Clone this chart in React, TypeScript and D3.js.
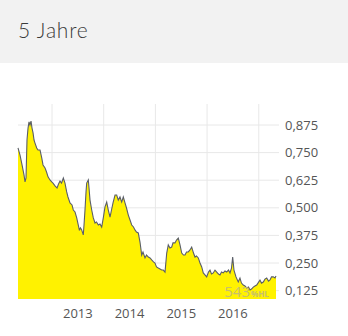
import React from "react";
import * as d3 from "d3";

// [decimal year, price]
const series: [number, number][] = [
  [2012.342, 0.771], [2012.381, 0.739], [2012.420, 0.694], [2012.458, 0.649], [2012.478, 0.617],
  [2012.497, 0.635], [2012.516, 0.807], [2012.536, 0.861], [2012.555, 0.889], [2012.574, 0.875],
  [2012.594, 0.893], [2012.613, 0.861], [2012.633, 0.839], [2012.652, 0.807], [2012.671, 0.793],
  [2012.704, 0.771], [2012.729, 0.762], [2012.768, 0.762], [2012.801, 0.726], [2012.826, 0.694],
  [2012.865, 0.680], [2012.894, 0.662], [2012.923, 0.640], [2012.961, 0.626], [2012.994, 0.617],
  [2013.019, 0.612], [2013.058, 0.599], [2013.097, 0.590], [2013.126, 0.608], [2013.155, 0.621],
  [2013.184, 0.612], [2013.219, 0.635], [2013.251, 0.612], [2013.284, 0.572], [2013.309, 0.549],
  [2013.348, 0.522], [2013.387, 0.513], [2013.412, 0.490], [2013.445, 0.481], [2013.478, 0.454],
  [2013.503, 0.427], [2013.528, 0.400], [2013.551, 0.409], [2013.574, 0.400], [2013.605, 0.377],
  [2013.619, 0.422], [2013.638, 0.490], [2013.658, 0.572], [2013.671, 0.612], [2013.702, 0.626],
  [2013.716, 0.590], [2013.735, 0.535], [2013.768, 0.490], [2013.799, 0.454], [2013.832, 0.431],
  [2013.861, 0.436], [2013.896, 0.422], [2013.928, 0.427], [2013.961, 0.413], [2013.992, 0.454],
  [2014.025, 0.504], [2014.058, 0.526], [2014.089, 0.490], [2014.122, 0.458], [2014.151, 0.490],
  [2014.180, 0.522], [2014.219, 0.558], [2014.251, 0.558], [2014.282, 0.535], [2014.315, 0.549],
  [2014.348, 0.526], [2014.379, 0.549], [2014.412, 0.522], [2014.441, 0.499], [2014.476, 0.467],
  [2014.509, 0.445], [2014.542, 0.422], [2014.576, 0.413], [2014.605, 0.400], [2014.634, 0.390],
  [2014.669, 0.386], [2014.702, 0.345], [2014.735, 0.286], [2014.760, 0.300], [2014.799, 0.273],
  [2014.828, 0.286], [2014.863, 0.277], [2014.896, 0.273], [2014.928, 0.264], [2014.963, 0.255],
  [2014.992, 0.250], [2015.021, 0.232], [2015.056, 0.227], [2015.089, 0.223], [2015.122, 0.218],
  [2015.153, 0.218], [2015.186, 0.209], [2015.219, 0.295], [2015.249, 0.332], [2015.282, 0.318],
  [2015.315, 0.322], [2015.340, 0.341], [2015.379, 0.341], [2015.408, 0.354], [2015.443, 0.363],
  [2015.476, 0.332], [2015.509, 0.295], [2015.543, 0.286], [2015.573, 0.286], [2015.602, 0.300],
  [2015.636, 0.300], [2015.669, 0.309], [2015.702, 0.322], [2015.737, 0.295], [2015.766, 0.277],
  [2015.795, 0.282], [2015.830, 0.273], [2015.863, 0.250], [2015.896, 0.232], [2015.926, 0.205],
  [2015.959, 0.196], [2015.992, 0.187], [2016.027, 0.209], [2016.056, 0.218], [2016.085, 0.200],
  [2016.120, 0.205], [2016.153, 0.218], [2016.186, 0.209], [2016.220, 0.200], [2016.249, 0.196],
  [2016.279, 0.209], [2016.313, 0.205], [2016.346, 0.214], [2016.379, 0.209], [2016.414, 0.218],
  [2016.443, 0.205], [2016.472, 0.227], [2016.495, 0.277], [2016.520, 0.218], [2016.559, 0.187],
  [2016.603, 0.164], [2016.636, 0.182], [2016.665, 0.159], [2016.700, 0.150], [2016.733, 0.146],
  [2016.766, 0.137], [2016.801, 0.141], [2016.830, 0.128], [2016.859, 0.132], [2016.894, 0.141],
  [2016.926, 0.146], [2016.959, 0.150], [2016.984, 0.159], [2017.023, 0.173], [2017.052, 0.159],
  [2017.087, 0.164], [2017.120, 0.177], [2017.153, 0.182], [2017.188, 0.168], [2017.217, 0.173],
  [2017.246, 0.187], [2017.280, 0.187], [2017.313, 0.182], [2017.333, 0.191],
];

const yearTicks = [2013, 2014, 2015, 2016];
const yearGrid = [2013, 2014, 2015, 2016, 2017];
const priceTicks = [0.125, 0.25, 0.375, 0.5, 0.625, 0.75, 0.875];
const title = "5 Jahre";

const W = 348;
const H = 336;

export default function App() {
  const x = d3.scaleLinear().domain([2012.342, 2017.333]).range([18, 276]);
  const y = d3.scaleLinear().domain([0.125, 0.875]).range([290.6, 125]);
  const plotTop = 104;
  const plotBottom = 299;
  const fmt = (v: number) => v.toFixed(3).replace(".", ",");

  const area = d3
    .area<[number, number]>()
    .x((d) => x(d[0]))
    .y0(plotBottom)
    .y1((d) => y(d[1]));
  const line = d3
    .line<[number, number]>()
    .x((d) => x(d[0]))
    .y((d) => y(d[1]));

  const font = "'Open Sans', sans-serif";

  return (
    <svg
      width={W}
      height={H}
      style={{ position: "absolute", left: 0, top: 0, background: "#fff" }}
    >
      <rect x={0} y={0} width={W} height={63} fill="#f2f2f2" />
      <text
        x={18}
        y={38}
        fontFamily="Lato, sans-serif"
        fontSize={21}
        fontWeight={300}
        letterSpacing={0.8}
        fill="#3a3a3a"
      >
        {title}
      </text>

      {priceTicks.map((t) => (
        <line key={"h" + t} x1={18} x2={279} y1={y(t)} y2={y(t)} stroke="#e8e8e8" strokeWidth={1} />
      ))}
      {yearGrid.map((t) => (
        <line key={"v" + t} x1={x(t)} x2={x(t)} y1={plotTop} y2={plotBottom} stroke="#e8e8e8" strokeWidth={1} />
      ))}

      <path d={area(series) || ""} fill="#fff200" />
      <path d={line(series) || ""} fill="none" stroke="#5a5e68" strokeWidth={1.1} />

      <text x={250} y={297} textAnchor="end" fontFamily={font} fontSize={15} fill="#c8c06c">
        543
      </text>
      <text x={251} y={297} fontFamily={font} fontSize={8} fontWeight={700} fill="#c8c06c">
        %HL
      </text>

      {priceTicks.map((t) => (
        <text
          key={"yl" + t}
          x={285}
          y={y(t)}
          dy="0.35em"
          fontFamily={font}
          fontSize={13}
          fill="#555"
        >
          {fmt(t)}
        </text>
      ))}
      {yearTicks.map((t) => (
        <text
          key={"xl" + t}
          x={x(t + 0.5)}
          y={318}
          textAnchor="middle"
          fontFamily={font}
          fontSize={13}
          fill="#555"
        >
          {t}
        </text>
      ))}
    </svg>
  );
}
